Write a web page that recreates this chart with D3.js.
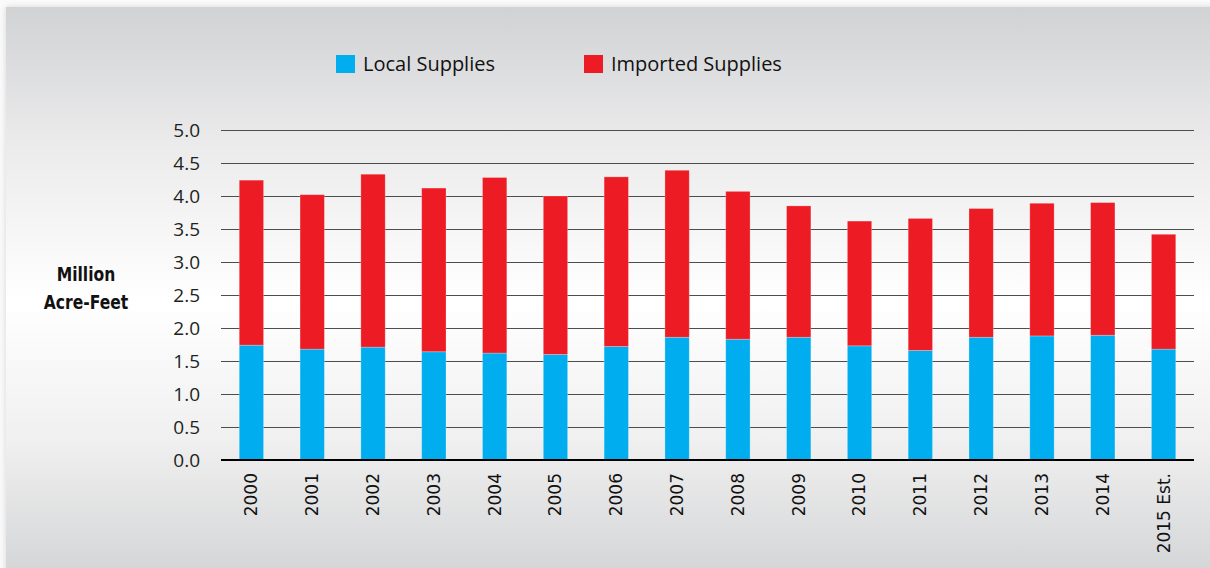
<!DOCTYPE html>
<html>
<head>
<meta charset="utf-8">
<script src="https://cdn.jsdelivr.net/npm/d3@7"></script>
<style>
  body { margin: 0; background: #f6f6f6; }
  svg { display: block; }
</style>
</head>
<body>
<svg width="1210" height="568"></svg>
<script>
// data (million acre-feet)
var years = ["2000", "2001", "2002", "2003", "2004", "2005", "2006", "2007",
             "2008", "2009", "2010", "2011", "2012", "2013", "2014", "2015 Est."];
var localSupplies = [1.74, 1.68, 1.71, 1.64, 1.62, 1.60, 1.72, 1.86,
                     1.83, 1.86, 1.73, 1.66, 1.86, 1.88, 1.89, 1.68];
var importedSupplies = [2.50, 2.34, 2.62, 2.48, 2.66, 2.40, 2.57, 2.53,
                        2.24, 1.99, 1.89, 2.00, 1.95, 2.01, 2.01, 1.74];
var yTicks = [0, 0.5, 1, 1.5, 2, 2.5, 3, 3.5, 4, 4.5, 5];
var seriesNames = ["Local Supplies", "Imported Supplies"];
var seriesColors = ["#00aeef", "#ed1c24"];

var svg = d3.select("svg"),
    width = 1210,
    height = 568;

var margin = { left: 221, right: 1194, top: 130, bottom: 460 };

// panel background with vertical gradient
var defs = svg.append("defs");
var grad = defs.append("linearGradient")
    .attr("id", "bg").attr("x1", 0).attr("y1", 0).attr("x2", 0).attr("y2", 1);
grad.append("stop").attr("offset", "0%").attr("stop-color", "#d1d2d4");
grad.append("stop").attr("offset", "24%").attr("stop-color", "#ebebec");
grad.append("stop").attr("offset", "52%").attr("stop-color", "#ffffff");
grad.append("stop").attr("offset", "76%").attr("stop-color", "#f0f0f0");
grad.append("stop").attr("offset", "100%").attr("stop-color", "#d4d5d7");

var shadow = defs.append("filter").attr("id", "shadow")
    .attr("x", "-5%").attr("y", "-5%").attr("width", "110%").attr("height", "110%");
shadow.append("feGaussianBlur").attr("in", "SourceAlpha").attr("stdDeviation", 3);
shadow.append("feOffset").attr("dx", 0).attr("dy", 0).attr("result", "b");
shadow.append("feComponentTransfer").append("feFuncA").attr("type", "linear").attr("slope", 0.15);
var merge = shadow.append("feMerge");
merge.append("feMergeNode");
merge.append("feMergeNode").attr("in", "SourceGraphic");

svg.append("rect").attr("width", width).attr("height", height).attr("fill", "#fafafa");
svg.append("rect")
    .attr("x", 6).attr("y", 7)
    .attr("width", width).attr("height", height)
    .attr("fill", "url(#bg)")
    .attr("filter", "url(#shadow)");

// scales
var x = d3.scaleBand()
    .domain(years)
    .range([margin.left, margin.right])
    .paddingInner(0.6)
    .paddingOuter(0.3);

var y = d3.scaleLinear()
    .domain([0, 5])
    .range([margin.bottom, margin.top]);

// y axis + gridlines
var yAxis = svg.append("g")
    .attr("transform", "translate(" + margin.left + ",0)")
    .call(d3.axisLeft(y)
        .tickValues(yTicks)
        .tickFormat(d3.format(".1f"))
        .tickSize(-(margin.right - margin.left))
        .tickPadding(21));
yAxis.select(".domain").remove();
yAxis.selectAll(".tick line")
    .attr("stroke", "#4d4d4d")
    .attr("stroke-width", 1.2);
yAxis.selectAll(".tick text")
    .attr("fill", "#231f20")
    .style("font-family", "'Open Sans', sans-serif")
    .style("font-size", "19px");

// stacked bars
var rows = years.map(function (yr, i) {
    return { year: yr, local: localSupplies[i], imported: importedSupplies[i] };
});
var stack = d3.stack().keys(["local", "imported"]);
var layers = stack(rows);

svg.append("g")
    .selectAll("g")
    .data(layers)
    .enter().append("g")
    .attr("fill", function (d, i) { return seriesColors[i]; })
    .selectAll("rect")
    .data(function (d) { return d; })
    .enter().append("rect")
    .attr("x", function (d) { return x(d.data.year); })
    .attr("y", function (d) { return y(d[1]); })
    .attr("width", x.bandwidth())
    .attr("height", function (d) { return y(d[0]) - y(d[1]); })
    .attr("stroke", "rgba(255,255,255,0.3)")
    .attr("stroke-width", 0.8);

// baseline
svg.append("line")
    .attr("x1", margin.left).attr("x2", margin.right)
    .attr("y1", y(0)).attr("y2", y(0))
    .attr("stroke", "#000").attr("stroke-width", 2.2);

// x axis labels, rotated
var xAxis = svg.append("g")
    .attr("transform", "translate(0," + y(0) + ")")
    .call(d3.axisBottom(x).tickSize(0));
xAxis.select(".domain").remove();
xAxis.selectAll(".tick text")
    .attr("transform", "rotate(-90)")
    .attr("text-anchor", "end")
    .attr("x", -13)
    .attr("y", 0)
    .attr("dy", "0.35em")
    .attr("fill", "#111")
    .style("font-family", "'DejaVu Sans', sans-serif")
    .style("font-size", "17px");

// y axis title (condensed bold look)
var title = svg.append("g")
    .attr("transform", "translate(86,0) scale(0.82,1)")
    .append("text")
    .attr("text-anchor", "middle")
    .attr("fill", "#111")
    .style("font-family", "'DejaVu Sans', sans-serif")
    .style("font-weight", "bold")
    .style("font-size", "19px");
title.append("tspan").attr("x", 0).attr("y", 281).text("Million");
title.append("tspan").attr("x", 0).attr("y", 309).text("Acre-Feet");

// legend
var legendX = [336, 584];
var legend = svg.append("g")
    .selectAll("g")
    .data(seriesNames)
    .enter().append("g")
    .attr("transform", function (d, i) { return "translate(" + legendX[i] + ",55)"; });
legend.append("rect")
    .attr("width", 19).attr("height", 18)
    .attr("fill", function (d, i) { return seriesColors[i]; });
legend.append("text")
    .attr("x", 27).attr("y", 16)
    .attr("fill", "#111")
    .style("font-family", "'Open Sans', sans-serif")
    .style("font-size", "20px")
    .text(function (d) { return d; });
</script>
</body>
</html>
